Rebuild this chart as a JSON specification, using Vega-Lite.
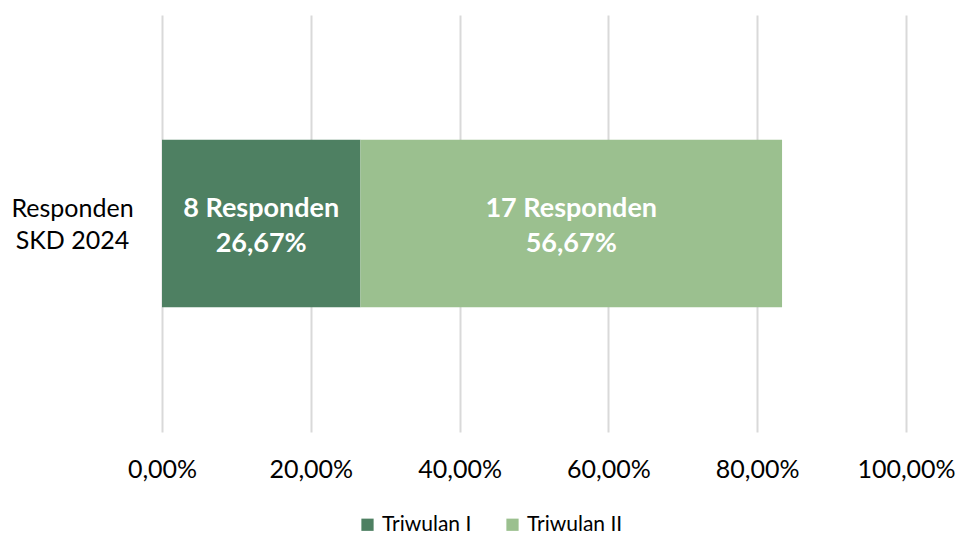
{
  "$schema": "https://vega.github.io/schema/vega-lite/v6.json",
  "width": 744,
  "height": 417,
  "autosize": {"type": "none"},
  "padding": {"left": 162, "top": 15, "right": 55, "bottom": 103},
  "background": "white",
  "config": {
    "view": {"stroke": null},
    "font": "Lato"
  },
  "data": {
    "values": [
      {"cat": "Responden SKD 2024", "series": "Triwulan I", "value": 0.2667, "label": ["8 Responden", "26,67%"]},
      {"cat": "Responden SKD 2024", "series": "Triwulan II", "value": 0.5667, "label": ["17 Responden", "56,67%"]}
    ]
  },
  "transform": [
    {"stack": "value", "groupby": ["cat"], "as": ["v0", "v1"], "sort": [{"field": "series", "order": "ascending"}]},
    {"calculate": "(datum.v0 + datum.v1) / 2", "as": "mid"}
  ],
  "encoding": {
    "y": {
      "field": "cat",
      "type": "nominal",
      "scale": {"paddingInner": 0, "paddingOuter": 0.743},
      "axis": {
        "title": null,
        "domain": false,
        "ticks": false,
        "labelExpr": "['Responden', 'SKD 2024']",
        "labelAlign": "center",
        "labelPadding": 90,
        "labelOffset": -15,
        "labelFontSize": 25,
        "labelColor": "#000000",
        "labelLineHeight": 32
      }
    }
  },
  "layer": [
    {
      "mark": {"type": "bar"},
      "encoding": {
        "x": {
          "field": "v0",
          "type": "quantitative",
          "scale": {"domain": [0, 1], "nice": false},
          "axis": {
            "title": null,
            "values": [0, 0.2, 0.4, 0.6, 0.8, 1],
            "labelExpr": "replace(format(datum.value, '.2%'), '.', ',')",
            "domain": false,
            "ticks": false,
            "grid": true,
            "gridColor": "#d9d9d9",
            "gridWidth": 2,
            "labelFontSize": 25,
            "labelColor": "#000000",
            "labelPadding": 25,
            "labelFlush": false
          }
        },
        "x2": {"field": "v1"},
        "color": {
          "field": "series",
          "type": "nominal",
          "scale": {"domain": ["Triwulan I", "Triwulan II"], "range": ["#4e8062", "#9bc08f"]},
          "legend": {
            "title": null,
            "orient": "none",
            "direction": "horizontal",
            "legendX": 195,
            "legendY": 499,
            "symbolType": "square",
            "symbolSize": 150,
            "symbolStrokeWidth": 0,
            "symbolOpacity": 1,
            "labelFontSize": 21,
            "labelColor": "#000000",
            "labelOffset": 4,
            "columnPadding": 30
          }
        }
      }
    },
    {
      "mark": {"type": "text", "color": "white", "fontWeight": "bold", "fontSize": 27, "lineHeight": 35, "align": "center", "baseline": "middle", "dy": -15},
      "encoding": {
        "x": {"field": "mid", "type": "quantitative"},
        "text": {"field": "label"}
      }
    }
  ]
}
